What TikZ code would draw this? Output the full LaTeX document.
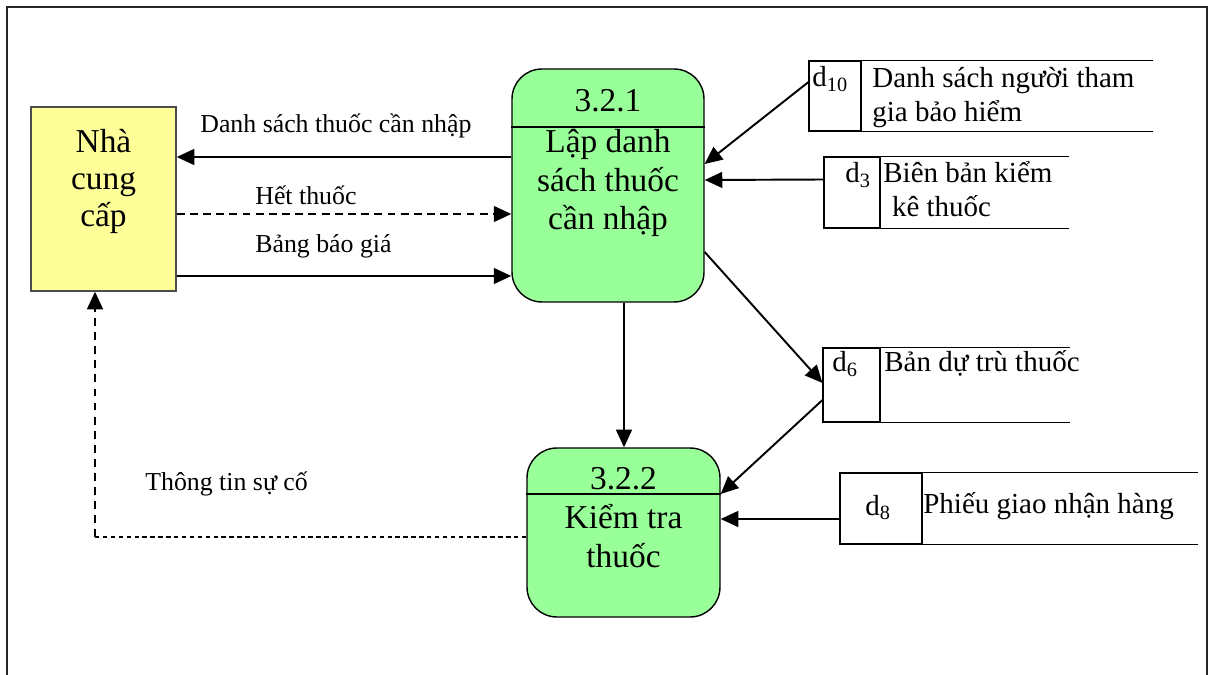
\documentclass[tikz,border=0pt]{standalone}
\usepackage{fontspec}
\setmainfont{Liberation Serif}
\usetikzlibrary{arrows.meta}

\definecolor{nccyellow}{RGB}{255,255,153}
\definecolor{xlgreen}{RGB}{153,255,153}

\begin{document}
\begin{tikzpicture}[
        x=0.02cm, y=-0.02cm,
        >={Triangle[length=10pt,width=9pt]}
    ]
    \tikzset{
        khung/.style = {draw=black!85, line width=1.1pt},
        tacnhan/.style = {rectangle, draw=black!70, line width=0.8pt, fill=nccyellow},
        xuly/.style = {rectangle, rounded corners=17pt, draw=black, line width=0.8pt, fill=xlgreen},
        okho/.style = {rectangle, draw=black, line width=0.6pt, inner sep=0pt},
        vienkho/.style = {draw=black, line width=0.6pt},
        luong/.style = {->, line width=1.1pt},
        luongnet/.style = {->, line width=1.1pt, dash pattern=on 4.5pt off 3pt},
        nhan/.style = {anchor=base west, inner sep=0pt, font=\fontsize{14.7}{17}\selectfont},
        chukho/.style = {anchor=base west, inner sep=0pt, align=left, font=\fontsize{16.5}{19.8}\selectfont},
        chuxl/.style = {anchor=base, inner sep=0pt, align=center, font=\fontsize{19}{22.1}\selectfont},
    }
    \useasboundingbox (0,0) rectangle (1210,675);
    \draw[khung] (7,700) -- (7,7) -- (1207,7) -- (1207,700);
    %
    % tac nhan va hai xu ly (chu nhieu dong: dat theo dong cuoi)
    \node[tacnhan, minimum width=2.9cm, minimum height=3.68cm] at (103.5,199) (ncc) {};
    \node[chuxl, font=\fontsize{19}{21.3}\selectfont] at (103.5,227) (nccchu) {Nhà\\cung\\cấp};
    \node[xuly, minimum width=3.84cm, minimum height=4.66cm] at (608,185.5) (lap) {};
    \draw[line width=0.8pt] (lap.west |- 0,127) -- (lap.east |- 0,127);
    \node[chuxl] at (608,112) (lapso) {3.2.1};
    \node[chuxl] at (608,230) (lapchu) {Lập danh\\sách thuốc\\cần nhập};
    \node[xuly, minimum width=3.86cm, minimum height=3.38cm] at (623.5,532.5) (kt) {};
    \draw[line width=0.8pt] (kt.west |- 0,494) -- (kt.east |- 0,494);
    \node[chuxl] at (623.5,489) (ktso) {3.2.2};
    \node[chuxl] at (623.5,567) (ktchu) {Kiểm tra\\thuốc};
    %
    % kho du lieu
    \node[okho, minimum width=1.04cm, minimum height=1.4cm] at (835,96) (d10) {};
    \draw[vienkho] (d10.north east) -- ++(291,0);
    \draw[vienkho] (d10.south east) -- ++(291,0);
    \node[chukho] at (812,87) {d\textsubscript{10}};
    \node[chukho] at (872,122) (d10chu) {Danh sách người tham\\gia bảo hiểm};
    %
    \node[okho, minimum width=1.12cm, minimum height=1.42cm] at (852,192.5) (d3) {};
    \draw[vienkho] (d3.north east) -- ++(188,0);
    \draw[vienkho] (d3.south east) -- ++(188,0);
    \node[chukho] at (845,183) {d\textsubscript{3}};
    \node[chukho] at (883,217) (d3chu) {Biên bản kiểm\\\hspace*{0.3em}kê thuốc};
    %
    \node[okho, minimum width=1.14cm, minimum height=1.48cm] at (851.5,385) (d6) {};
    \draw[vienkho] (d6.north east) -- ++(189,0);
    \draw[vienkho] (d6.south east) -- ++(189,0);
    \node[chukho] at (832,372) {d\textsubscript{6}};
    \node[chukho] at (884,372) (d6chu) {Bản dự trù thuốc};
    %
    \node[okho, minimum width=1.64cm, minimum height=1.42cm] at (881,508.5) (d8) {};
    \draw[vienkho] (d8.north east) -- ++(275,0);
    \draw[vienkho] (d8.south east) -- ++(275,0);
    \node[chukho] at (865,515) {d\textsubscript{8}};
    \node[chukho] at (923,513) (d8chu) {Phiếu giao nhận hàng};
    %
    % cac luong du lieu
    \draw[luong] (lap.west |- 0,157) -- (ncc.east |- 0,157);
    \draw[luongnet] (ncc.east |- 0,214) -- (lap.west |- 0,214);
    \draw[luong] (ncc.east |- 0,276) -- (lap.west |- 0,276);
    \node[nhan] at (200,133) {Danh sách thuốc cần nhập};
    \node[nhan] at (255,205) {Hết thuốc};
    \node[nhan] at (255,253) {Bảng báo giá};
    %
    \coordinate (goc) at (95,537);
    \draw[line width=0.6pt, dash pattern=on 2.5pt off 2pt] (kt.west |- goc) -- (goc);
    \draw[->, line width=1.1pt, dash pattern=on 4.5pt off 3.5pt] (goc) -- (ncc.south -| goc);
    \node[nhan] at (145,490) {Thông tin sự cố};
    %
    \coordinate (doc) at (624,0);
    \draw[luong] (lap.south -| doc) -- (kt.north -| doc);
    \draw[luong] (d10.west |- 0,82) -- (lap.east |- 0,164);
    \draw[luong] (d3.west) ++(0,-13) -- (lap.east |- 0,180);
    \draw[luong] (lap.east |- 0,252) -- (d6.west |- 0,383);
    \draw[luong] (d6.west |- 0,400) -- (kt.east |- 0,494);
    \draw[luong] (d8.west |- 0,519) -- (kt.east |- 0,519);
\end{tikzpicture}
\end{document}
